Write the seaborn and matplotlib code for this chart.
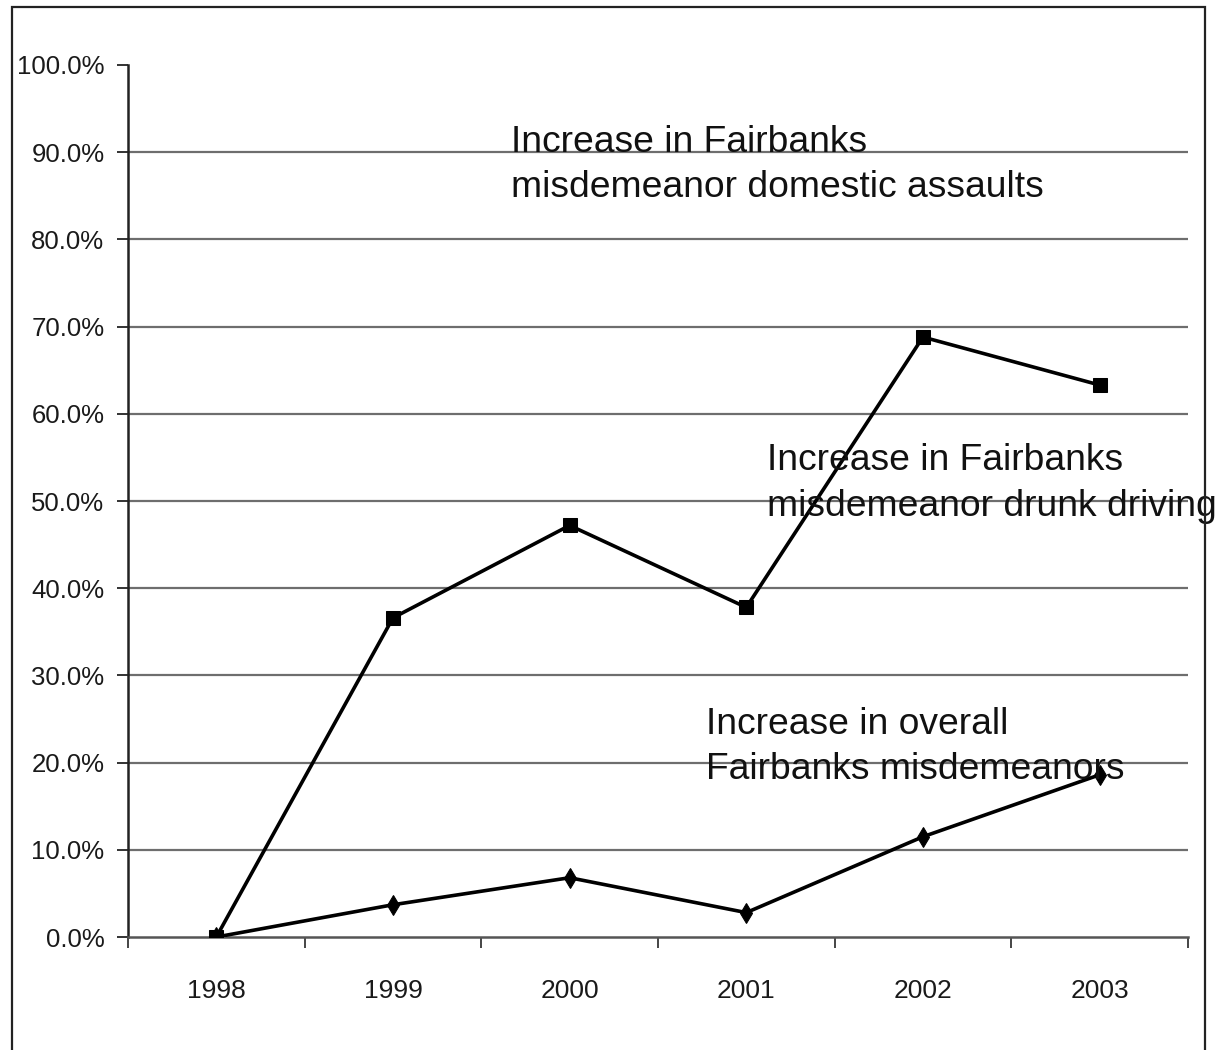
import matplotlib
matplotlib.use("Agg")
import matplotlib.pyplot as plt
import matplotlib.patches as patches
import pandas as pd
import seaborn as sns

# chart data
years = ['1998', '1999', '2000', '2001', '2002', '2003']
drunk_driving = [0.0, 36.6, 47.2, 37.8, 68.8, 63.3]
overall = [0.0, 3.7, 6.8, 2.8, 11.5, 18.6]
y_ticks = [0, 10, 20, 30, 40, 50, 60, 70, 80, 90, 100]

notes = [
    ('Increase in Fairbanks\nmisdemeanor domestic assaults', 1.67, 88.5),
    ('Increase in Fairbanks\nmisdemeanor drunk driving', 3.12, 52.0),
    ('Increase in overall\nFairbanks misdemeanors', 2.77, 21.8),
]

df = pd.DataFrame({
    'pos': list(range(len(years))) * 2,
    'value': drunk_driving + overall,
    'series': ['drunk'] * len(years) + ['overall'] * len(years),
})

sns.set_style('white')
plt.rcParams['font.family'] = ['Liberation Sans', 'DejaVu Sans']

fig = plt.figure(figsize=(12.19, 10.5), dpi=100)
ax = fig.add_axes([0.105, 0.1076, 0.8695, 0.8305])

# outer frame of the scanned page (bottom edge is cut off)
frame = patches.Rectangle((12 / 1219, -0.05), (1205 - 12) / 1219, 1.05 - 7 / 1050,
                          transform=fig.transFigure, fill=False,
                          edgecolor='#222222', linewidth=1.6, clip_on=False)
fig.add_artist(frame)

# gridlines (none at 100%)
for t in y_ticks[1:-1]:
    ax.axhline(t, color='#6e6e6e', linewidth=1.6, zorder=1)

sns.lineplot(data=df, x='pos', y='value', style='series',
             markers={'drunk': 's', 'overall': 'd'}, dashes=False,
             color='black', linewidth=2.6, markersize=10,
             markeredgecolor='black', legend=False, ax=ax, zorder=3)

ax.set_xlim(-0.5, len(years) - 0.5)
ax.set_ylim(0, 100)

# boundary ticks on x, labels at category centres
ax.set_xticks([i - 0.5 for i in range(len(years) + 1)])
ax.set_xticklabels([])
ax.set_xticks(range(len(years)), minor=True)
ax.set_xticklabels(years, minor=True)
ax.tick_params(axis='x', which='major', direction='out', length=8, width=1.4,
               color='#444444', bottom=True)
ax.tick_params(axis='x', which='minor', length=0, pad=30, labelsize=19,
               labelcolor='#1a1a1a')

ax.set_yticks(y_ticks)
ax.set_yticklabels(['{:.1f}%'.format(t) for t in y_ticks])
ax.tick_params(axis='y', direction='out', length=8, width=1.4, color='#333333',
               left=True, labelsize=18.5, labelcolor='#1a1a1a', pad=9)

ax.set_xlabel('')
ax.set_ylabel('')

sns.despine(ax=ax, top=True, right=True)
ax.spines['left'].set_color('#222222')
ax.spines['left'].set_linewidth(1.8)
ax.spines['bottom'].set_color('#555555')
ax.spines['bottom'].set_linewidth(1.8)

for text, x, y in notes:
    ax.text(x, y, text, ha='left', va='center', fontsize=26.8,
            color='#111111', linespacing=1.38, zorder=4)

fig.savefig('out.png', dpi=100)
